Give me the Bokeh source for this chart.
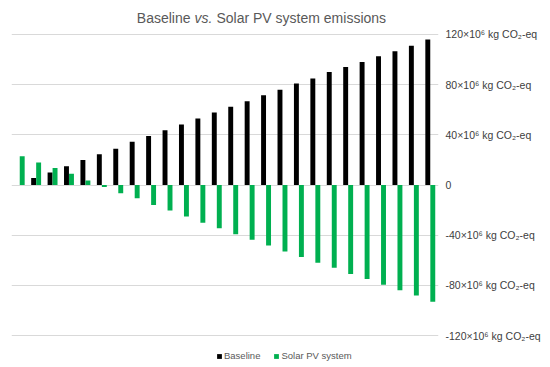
from bokeh.plotting import figure
from bokeh.models import ColumnDataSource, FixedTicker, Legend, LegendItem, Label, Range1d
from bokeh.transform import dodge
from bokeh.embed import file_html
from bokeh.resources import INLINE

years = list(range(26))
baseline = [0, 5.6, 10, 15, 20, 24.5, 29, 34.4, 39, 43.7, 48.3, 53, 57.8, 62.3,
            66.8, 71.6, 76, 81, 85, 90, 94, 98, 102.6, 106.6, 111, 116]
solar_pv = [23, 18, 13.5, 9, 3.5, -1.5, -6.5, -10.6, -15.9, -20.4, -25.2, -30, -34.4,
            -39.2, -43.7, -48.3, -53, -57.5, -62, -66, -71, -75, -79.5, -84, -88, -93]
tick_values = [-120, -80, -40, 0, 40, 80, 120]
tick_texts = ["-120×10⁶ kg CO₂-eq", "-80×10⁶ kg CO₂-eq", "-40×10⁶ kg CO₂-eq", "0",
              "40×10⁶ kg CO₂-eq", "80×10⁶ kg CO₂-eq", "120×10⁶ kg CO₂-eq"]
series_names = ["Baseline", "Solar PV system"]
title_parts = ["Baseline", "vs.", "Solar PV system emissions"]

GREEN = "#00B050"
FONT = "Liberation Sans"

src = ColumnDataSource(dict(year=years, baseline=baseline, solar=solar_pv))

p = figure(frame_width=427, frame_height=367, output_backend="svg", toolbar_location=None,
           x_range=Range1d(-0.5, 25.5), y_range=Range1d(-145.5, 147.1),
           x_axis_location=None, y_axis_location="right",
           min_border_left=11, min_border_top=0, min_border_bottom=0, min_border_right=0)
p.outline_line_color = None
p.background_fill_color = "white"
p.border_fill_color = "white"

r1 = p.vbar(x=dodge("year", -0.152), top="baseline", width=0.3,
            source=src, fill_color="black", line_color=None)
r2 = p.vbar(x=dodge("year", 0.152), top="solar", width=0.3,
            source=src, fill_color=GREEN, line_color=None)

ax = p.yaxis[0]
ax.ticker = FixedTicker(ticks=tick_values)
ax.major_label_overrides = {v: t for v, t in zip(tick_values, tick_texts)}
ax.axis_line_color = None
ax.major_tick_line_color = None
ax.minor_tick_line_color = None
ax.major_tick_out = 0
ax.major_tick_in = 0
ax.major_label_standoff = 7
ax.major_label_text_font = FONT
ax.major_label_text_font_size = "10.5px"
ax.major_label_text_color = "#404040"

p.ygrid.grid_line_color = "#D9D9D9"
p.ygrid.grid_line_width = 1
p.xgrid.grid_line_color = None

# title with italic "vs."
tx = [10.40, 10.643, 11.98]
aligns = ["right", "left", "left"]
styles = ["normal", "italic", "normal"]
for t, x, a, s in zip(title_parts, tx, aligns, styles):
    p.add_layout(Label(x=x, y=133.3, text=t, text_font=FONT, text_font_size="14px",
                       text_font_style=s, text_color="#595959",
                       text_baseline="alphabetic", text_align=a))

legend = Legend(items=[LegendItem(label=series_names[0], renderers=[r1]),
                       LegendItem(label=series_names[1], renderers=[r2])],
                orientation="horizontal", location=(205, 6))
legend.glyph_width = 6
legend.glyph_height = 6
legend.label_height = 10
legend.label_standoff = 2
legend.spacing = 13
legend.padding = 0
legend.margin = 0
legend.border_line_color = None
legend.background_fill_alpha = 0
legend.label_text_font = FONT
legend.label_text_font_size = "9.5px"
legend.label_text_color = "#595959"
p.add_layout(legend)

open("out.html", "w").write(file_html(p, INLINE))
